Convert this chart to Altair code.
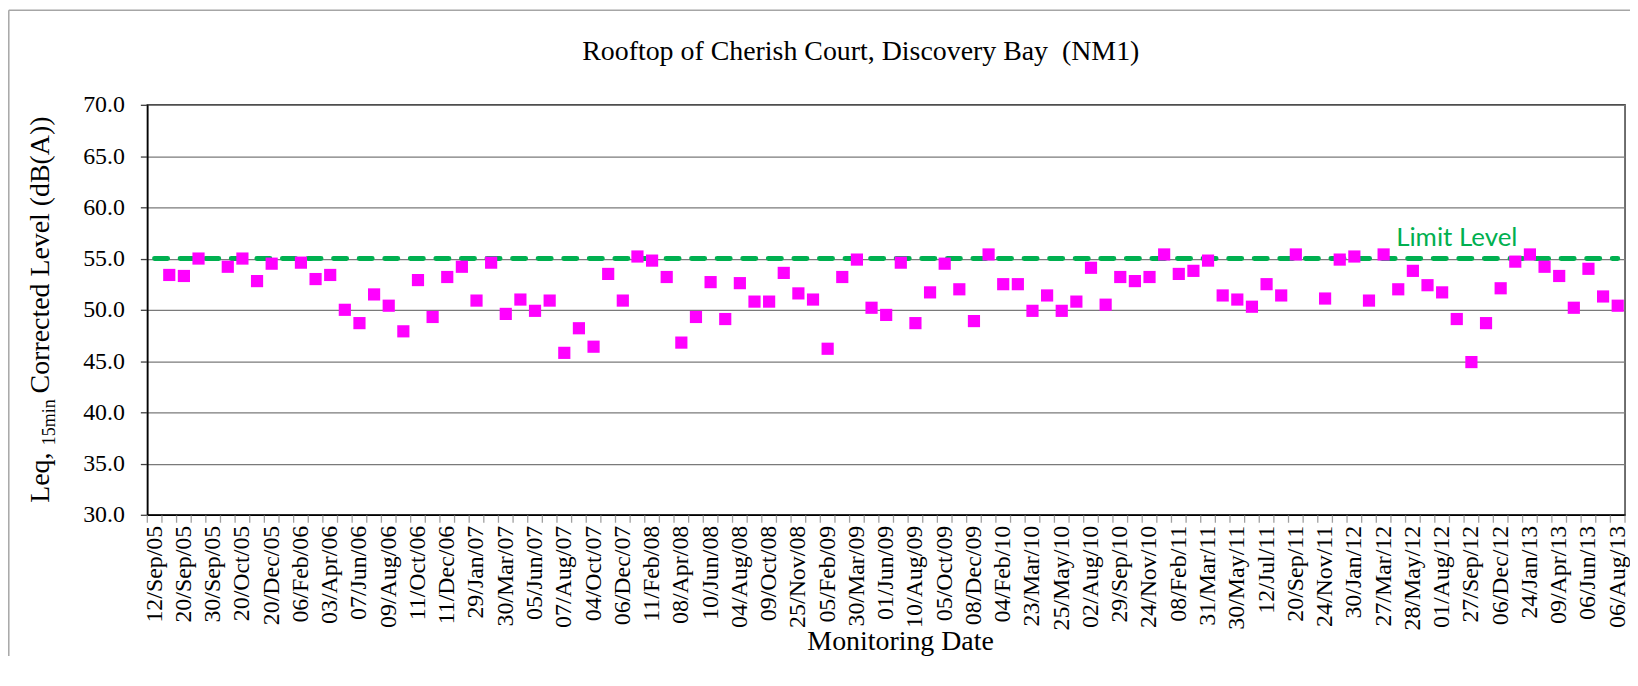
import altair as alt
import pandas as pd

# ---- data ----
title_text = "Rooftop of Cherish Court, Discovery Bay\u00a0 (NM1)"
x_title = "Monitoring Date"
y_title_parts = ["Leq,", "15min", "Corrected Level (dB(A))"]
limit_label = "Limit Level"
limit_level = 55.0

# labels shown on every other category of the date axis
date_labels = [
    "12/Sep/05", "20/Sep/05", "30/Sep/05", "20/Oct/05", "20/Dec/05", "06/Feb/06",
    "03/Apr/06", "07/Jun/06", "09/Aug/06", "11/Oct/06", "11/Dec/06", "29/Jan/07",
    "30/Mar/07", "05/Jun/07", "07/Aug/07", "04/Oct/07", "06/Dec/07", "11/Feb/08",
    "08/Apr/08", "10/Jun/08", "04/Aug/08", "09/Oct/08", "25/Nov/08", "05/Feb/09",
    "30/Mar/09", "01/Jun/09", "10/Aug/09", "05/Oct/09", "08/Dec/09", "04/Feb/10",
    "23/Mar/10", "25/May/10", "02/Aug/10", "29/Sep/10", "24/Nov/10", "08/Feb/11",
    "31/Mar/11", "30/May/11", "12/Jul/11", "20/Sep/11", "24/Nov/11", "30/Jan/12",
    "27/Mar/12", "28/May/12", "01/Aug/12", "27/Sep/12", "06/Dec/12", "24/Jan/13",
    "09/Apr/13", "06/Jun/13", "06/Aug/13",
]

# measured Leq (one per monitoring, None = no reading)
levels = [
    None, 53.4, 53.3, 55.0, None, 54.2, 55.0, 52.8, 54.5, None,
    54.6, 53.0, 53.4, 50.0, 48.7, 51.5, 50.4, 47.9, 52.9, 49.3,
    53.2, 54.2, 50.9, 54.6, 49.6, 51.0, 49.9, 50.9, 45.8, 48.2,
    46.4, 53.5, 50.9, 55.2, 54.8, 53.2, 46.8, 49.3, 52.7, 49.1,
    52.6, 50.8, 50.8, 53.6, 51.6, 51.0, 46.2, 53.2, 54.9, 50.2,
    49.5, 54.6, 48.7, 51.7, 54.5, 52.0, 48.9, 55.4, 52.5, 52.5,
    49.9, 51.4, 49.9, 50.8, 54.1, 50.5, 53.2, 52.8, 53.2, 55.4,
    53.5, 53.8, 54.8, 51.4, 51.0, 50.3, 52.5, 51.4, 55.4, None,
    51.1, 54.9, 55.2, 50.9, 55.4, 52.0, 53.8, 52.4, 51.7, 49.1,
    44.9, 48.7, 52.1, 54.7, 55.4, 54.2, 53.3, 50.2, 54.0, 51.3,
    50.4,
]

y_ticks = [30, 35, 40, 45, 50, 55, 60, 65, 70]

# ---- layout ----
W, H = 1485, 412
n_cat = len(levels)
SERIF = "Liberation Serif"
GREEN = "#00B050"

pts = pd.DataFrame({"idx": list(range(n_cat)), "level": levels}).dropna()
limit_df = pd.DataFrame({"idx": [0, n_cat - 1], "limit": [limit_level, limit_level]})
bounds_df = pd.DataFrame({"b": [i - 0.5 for i in range(n_cat + 1)]})
labels_df = pd.DataFrame({
    "idx": [2 * k for k in range(len(date_labels))],
    "label": date_labels,
})

x_scale = alt.Scale(domain=[-0.5, n_cat - 0.5], nice=False, zero=False)
y_scale = alt.Scale(domain=[30, 70], nice=False, zero=False)

x_axis = alt.Axis(
    labels=False, ticks=False, grid=False, title=None,
    domainColor="#000000", domainWidth=1.5,
)
y_axis = alt.Axis(
    values=y_ticks, format=".1f",
    labelFont=SERIF, labelFontSize=24, labelColor="#000000", labelPadding=16,
    tickSize=7, tickColor="#404040", tickWidth=1.3,
    domainColor="#000000", domainWidth=1.5,
    grid=True, gridColor="#7a7a7a", gridWidth=1.3, title=None,
)

limit_line = alt.Chart(limit_df).mark_line(
    color=GREEN, strokeWidth=5, strokeDash=[13, 12.7], strokeCap="round"
).encode(
    x=alt.X("idx:Q", scale=x_scale, axis=x_axis),
    y=alt.Y("limit:Q", scale=y_scale, axis=y_axis),
)

cat_ticks = alt.Chart(bounds_df).mark_rule(color="#a0a0a0", strokeWidth=1.3).encode(
    x=alt.X("b:Q", scale=x_scale),
    y=alt.value(H + 0.75),
    y2=alt.value(H + 8),
)

cat_labels = alt.Chart(labels_df).mark_text(
    font=SERIF, fontSize=24, color="#000000",
    angle=270, align="right", baseline="middle",
).encode(
    x=alt.X("idx:Q", scale=x_scale),
    y=alt.value(H + 11),
    text="label:N",
)

points = alt.Chart(pts).mark_square(size=150, color="#FF00FF", opacity=1).encode(
    x=alt.X("idx:Q", scale=x_scale),
    y=alt.Y("level:Q", scale=y_scale),
)

one = pd.DataFrame({"k": [0]})

limit_text = alt.Chart(one).mark_text(
    text=limit_label, font="Lato", fontSize=26, color=GREEN,
    align="center", baseline="alphabetic",
).encode(x=alt.datum(89), y=alt.datum(56.2))

title_mark = alt.Chart(one).mark_text(
    text=title_text, font=SERIF, fontSize=28, color="#000000",
    align="center", baseline="alphabetic",
).encode(x=alt.value(717), y=alt.value(-45))

xtitle_mark = alt.Chart(one).mark_text(
    text=x_title, font=SERIF, fontSize=28, color="#000000",
    align="center", baseline="alphabetic",
).encode(x=alt.value(757), y=alt.value(548))

yt1 = alt.Chart(one).mark_text(
    text=y_title_parts[0], font=SERIF, fontSize=28, color="#000000",
    angle=270, align="left", baseline="alphabetic",
).encode(x=alt.value(-99), y=alt.value(400))
yt2 = alt.Chart(one).mark_text(
    text=y_title_parts[1], font=SERIF, fontSize=18, color="#000000",
    angle=270, align="left", baseline="alphabetic",
).encode(x=alt.value(-93), y=alt.value(342))
yt3 = alt.Chart(one).mark_text(
    text=y_title_parts[2], font=SERIF, fontSize=28, color="#000000",
    angle=270, align="left", baseline="alphabetic",
).encode(x=alt.value(-99), y=alt.value(290))

frame_left = alt.Chart(one).mark_rule(color="#a6a6a6", strokeWidth=1.5).encode(
    x=alt.value(-139.2), y=alt.value(-95), y2=alt.value(600)
)
frame_top = alt.Chart(one).mark_rule(color="#a6a6a6", strokeWidth=1.5).encode(
    x=alt.value(-139.2), x2=alt.value(W + 10), y=alt.value(-95)
)

chart = alt.layer(
    frame_left, frame_top, limit_line, cat_ticks, cat_labels, points, limit_text,
    title_mark, xtitle_mark, yt1, yt2, yt3,
).properties(
    width=W, height=H,
    autosize=alt.AutoSizeParams(type="none"),
    padding={"left": 140, "top": 95.7, "right": 5, "bottom": 140},
    background="#ffffff",
).configure_view(stroke="#404040", strokeWidth=1.5)

chart.save("out.html", embed_options={"renderer": "svg", "actions": False})
